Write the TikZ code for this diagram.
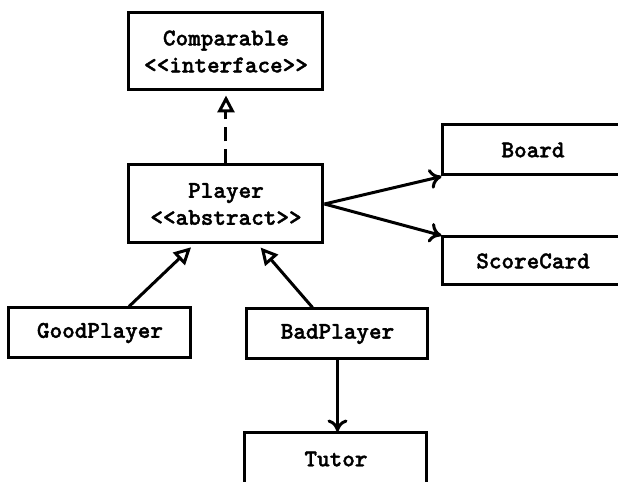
\documentclass[tikz,border=0pt]{standalone}
\usepackage{fontspec}
\newfontfamily\classfont[FakeBold=1.6]{lmmonolt10-bold.otf}
\usetikzlibrary{arrows.meta}

\begin{document}
\begin{tikzpicture}[x=0.5pt,y=0.5pt,yscale=-1,xscale=1,
  classbox/.style={draw,line width=1.5pt,inner sep=0pt,align=center,
    font=\classfont\fontsize{12}{13.5}\selectfont},
  assoc/.style={line width=1.5pt,-{To[length=6pt,width=10pt]}},
  inherit/.style={line width=1.5pt,-{Triangle[open,length=8.5pt,width=8.5pt]},shorten >=2pt},
  realize/.style={inherit,dash pattern={on 7pt off 4pt}}]
%set diagram frame: 618 x 482
\useasboundingbox (0,0) rectangle (618,482);
\clip (0,0) rectangle (618,482);

%Shape: Rectangle [comparable]
\node[classbox,minimum width=97pt,minimum height=38.5pt] (comparable) at (226,51.5) {Comparable\\<\kern0pt<interface>\kern0pt>};
%Shape: Rectangle [player]
\node[classbox,minimum width=97pt,minimum height=39pt] (player) at (226,204) {Player\\<\kern0pt<abstract>\kern0pt>};
%Shape: Rectangle [board]
\node[classbox,minimum width=90pt,minimum height=25pt] (board) at (533,150) {Board};
%Shape: Rectangle [scorecard]
\node[classbox,minimum width=90pt,minimum height=24pt] (scorecard) at (533,261) {ScoreCard};
%Shape: Rectangle [goodplayer]
\node[classbox,minimum width=91pt,minimum height=25pt] (goodplayer) at (100,333) {GoodPlayer};
%Shape: Rectangle [badplayer]
\node[classbox,minimum width=90.5pt,minimum height=25pt] (badplayer) at (337.5,334) {BadPlayer};
%Shape: Rectangle [tutor]
\node[classbox,minimum width=91pt,minimum height=26pt] (tutor) at (336,459) {Tutor};

%Straight Lines
\draw[realize] (player.north) -- (comparable.south);
\draw[assoc] (player.east) -- (board.south west);
\draw[assoc] (player.east) -- (scorecard.north west);
\draw[inherit] ([xshift=14.5pt]goodplayer.north) -- ([xshift=-16pt]player.south);
\draw[inherit] ([xshift=-12.5pt]badplayer.north) -- ([xshift=16pt]player.south);
\draw[assoc] (badplayer.south) -- (badplayer.south |- tutor.north);

\end{tikzpicture}
\end{document}
